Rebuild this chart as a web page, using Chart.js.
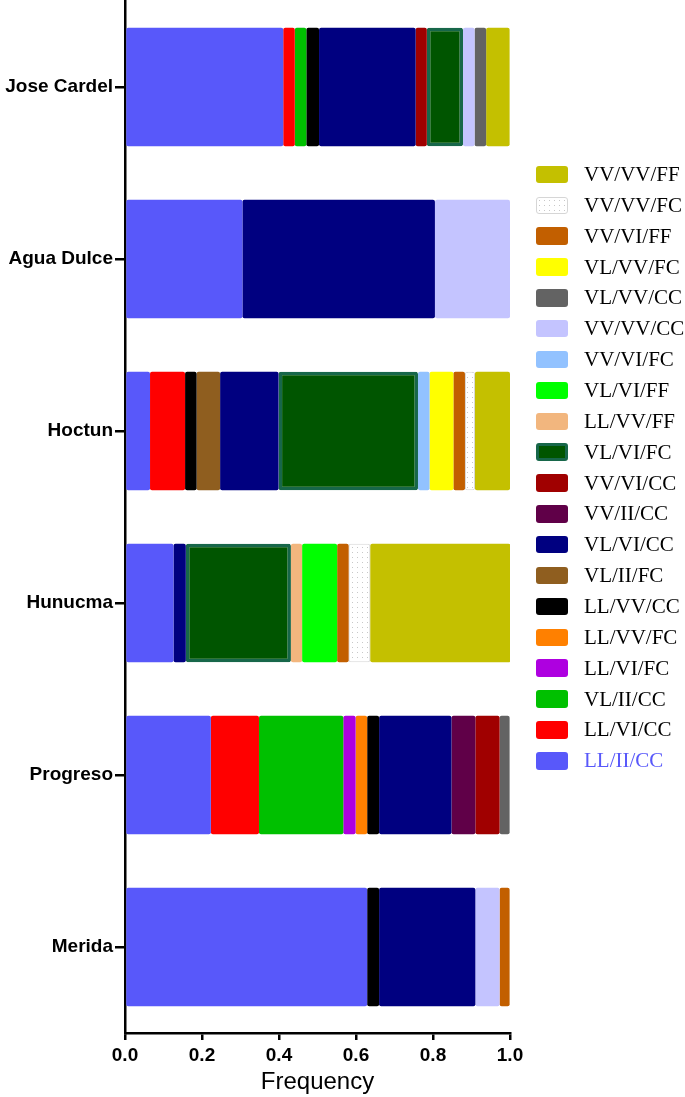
<!DOCTYPE html>
<html>
<head>
<meta charset="utf-8">
<script src="https://cdn.jsdelivr.net/npm/chart.js@4.4.1/dist/chart.umd.min.js"></script>
<style>
  body { margin: 0; background: #fff; }
  #wrap { position: relative; width: 685px; height: 1097px; }
  #legend {
    position: absolute; left: 536px; top: 159px;
    margin: 0; padding: 0; list-style: none;
    font-family: 'Liberation Serif', 'Times New Roman', serif; font-size: 21px; color: #000;
  }
  #legend li { display: flex; align-items: center; height: 30.87px; white-space: nowrap; }
  #legend .box { width: 32px; height: 17.5px; border-radius: 3px; margin-right: 16px; box-sizing: border-box; }
</style>
</head>
<body>
<div id="wrap">
  <canvas id="haploChart" width="685" height="1097"></canvas>
  <ul id="legend"></ul>
</div>
<script>
// populations, top to bottom
const categories = ['Jose Cardel', 'Agua Dulce', 'Hoctun', 'Hunucma', 'Progreso', 'Merida'];
const xTickLabels = ['0.0', '0.2', '0.4', '0.6', '0.8', '1.0'];

// genotype frequencies per population (same order as categories)
const LL_II_CC = [0.411, 0.305, 0.065, 0.126, 0.223, 0.629];
const LL_VI_CC = [0.030, null, 0.091, null, 0.125, null];
const VL_II_CC = [0.030, null, null, null, 0.219, null];
const LL_VI_FC = [null, null, null, null, 0.032, null];
const LL_VV_FC = [null, null, null, null, 0.030, null];
const LL_VV_CC = [0.033, null, 0.030, null, 0.031, 0.031];
const VL_II_FC = [null, null, 0.061, null, null, null];
const VL_VI_CC = [0.251, 0.500, 0.152, 0.032, 0.188, 0.250];
const VV_II_CC = [null, null, null, null, 0.062, null];
const VV_VI_CC = [0.029, null, null, null, 0.063, null];
const VL_VI_FC = [0.094, null, 0.362, 0.273, null, null];
const LL_VV_FF = [null, null, null, 0.029, null, null];
const VL_VI_FF = [null, null, null, 0.091, null, null];
const VV_VI_FC = [null, null, 0.030, null, null, null];
const VV_VV_CC = [0.030, 0.195, null, null, null, 0.063];
const VL_VV_CC = [0.030, null, null, null, 0.026, null];
const VL_VV_FC = [null, null, 0.062, null, null, null];
const VV_VI_FF = [null, null, 0.030, 0.030, null, 0.026];
const VV_VV_FC = [null, null, 0.026, 0.056, null, null];
const VV_VV_FF = [0.061, null, 0.091, 0.364, null, null];

const seriesLabels = [
    'LL/II/CC', 'LL/VI/CC', 'VL/II/CC', 'LL/VI/FC', 'LL/VV/FC', 'LL/VV/CC', 'VL/II/FC',
    'VL/VI/CC', 'VV/II/CC', 'VV/VI/CC', 'VL/VI/FC', 'LL/VV/FF', 'VL/VI/FF', 'VV/VI/FC',
    'VV/VV/CC', 'VL/VV/CC', 'VL/VV/FC', 'VV/VI/FF', 'VV/VV/FC', 'VV/VV/FF'
];
const seriesValues = [
    LL_II_CC, LL_VI_CC, VL_II_CC, LL_VI_FC, LL_VV_FC, LL_VV_CC, VL_II_FC,
    VL_VI_CC, VV_II_CC, VV_VI_CC, VL_VI_FC, LL_VV_FF, VL_VI_FF, VV_VI_FC,
    VV_VV_CC, VL_VV_CC, VL_VV_FC, VV_VI_FF, VV_VV_FC, VV_VV_FF
];

// white swatch with small grey dots for VV/VV/FC
function dotPattern() {
    const c = document.createElement('canvas');
    c.width = 5; c.height = 5;
    const g = c.getContext('2d');
    g.fillStyle = '#ffffff';
    g.fillRect(0, 0, 5, 5);
    g.fillStyle = '#c8c8c8';
    g.fillRect(2, 2, 1, 1);
    return g.createPattern(c, 'repeat');
}

const seriesColors = [
    '#5858fa', '#ff0000', '#00c000', '#ae00e0', '#ff8000', '#000000', '#8f5e1f',
    '#000080', '#600048', '#a00000', '#005500', '#f2b67e', '#00ff00', '#92c2ff',
    '#c4c4ff', '#636363', '#ffff00', '#c25f00', dotPattern(), '#c4c000'
];
const cssSwatch = { 'VV/VV/FC': 'radial-gradient(#c8c8c8 0.7px, transparent 0.9px) 0 0/5px 5px, #fff' };
const borders = {
    'VL/VI/FC': { color: '#17674a', width: 3.5 },
    'VV/VV/FC': { color: '#d6d6d6', width: 1 }
};

const datasets = seriesLabels.map((label, i) => ({
    label: label,
    data: seriesValues[i],
    backgroundColor: seriesColors[i],
    borderColor: borders[label] ? borders[label].color : seriesColors[i],
    borderWidth: borders[label] ? borders[label].width : 0,
    borderRadius: { topLeft: 2, topRight: 2, bottomLeft: 2, bottomRight: 2 },
    borderSkipped: false,
    barPercentage: 0.69,
    categoryPercentage: 1.0
}));

const axisFont = { family: "'Liberation Sans', Arial, sans-serif", weight: 'bold', size: 19 };

const chart = new Chart(document.getElementById('haploChart'), {
    type: 'bar',
    data: { labels: categories, datasets: datasets },
    options: {
        indexAxis: 'y',
        responsive: false,
        animation: false,
        layout: { padding: { top: 1, left: 0, right: 175, bottom: 0 } },
        plugins: {
            legend: { display: false },
            tooltip: { enabled: false }
        },
        scales: {
            x: {
                stacked: true,
                min: 0,
                max: 1,
                afterFit: (scale) => { scale.height = 64; },
                grid: { drawOnChartArea: false, drawTicks: true, tickLength: 7, color: '#000', lineWidth: 2.5 },
                border: { display: true, color: '#000', width: 2.5 },
                ticks: {
                    stepSize: 0.2,
                    color: '#000',
                    font: axisFont,
                    padding: 4,
                    callback: (v, i) => xTickLabels[i]
                },
                title: {
                    display: true,
                    text: 'Frequency',
                    color: '#000',
                    font: { family: "'Liberation Sans', Arial, sans-serif", size: 24 },
                    padding: { top: 2, bottom: 0 }
                }
            },
            y: {
                stacked: true,
                afterFit: (scale) => {
                    scale.width = 125;
                    scale.paddingTop = 0;
                    scale.paddingBottom = 0;
                },
                grid: { drawOnChartArea: false, drawTicks: true, tickLength: 10, color: '#000', lineWidth: 2.5, offset: false },
                border: { display: true, color: '#000', width: 2.5 },
                ticks: { color: '#000', font: axisFont, padding: 2 }
            }
        }
    }
});

// legend, listed top-down in reverse stacking order
const legendEl = document.getElementById('legend');
chart.data.datasets.slice().reverse().forEach((ds) => {
    const li = document.createElement('li');
    const box = document.createElement('span');
    box.className = 'box';
    box.style.background = cssSwatch[ds.label] || ds.backgroundColor;
    if (ds.borderWidth) box.style.border = ds.borderWidth + 'px solid ' + ds.borderColor;
    const txt = document.createElement('span');
    txt.textContent = ds.label;
    if (ds.label === 'LL/II/CC') txt.style.color = '#5858fa';
    li.appendChild(box);
    li.appendChild(txt);
    legendEl.appendChild(li);
});
</script>
</body>
</html>
